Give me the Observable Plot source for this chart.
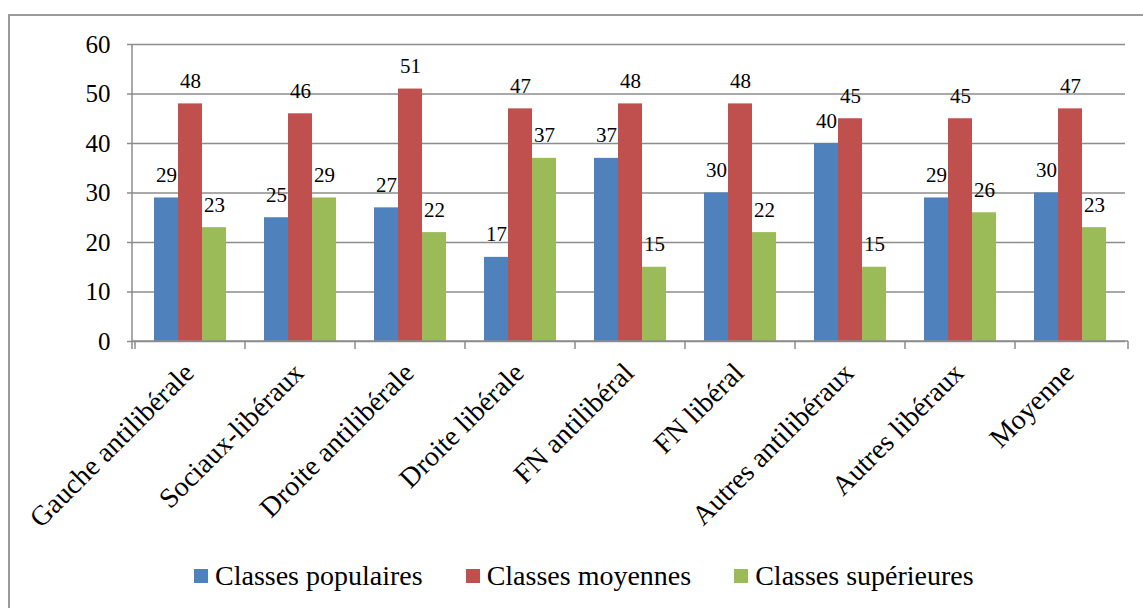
<!DOCTYPE html>
<html>
<head>
<meta charset="utf-8">
<script src="https://cdn.jsdelivr.net/npm/d3@7"></script>
<script src="https://cdn.jsdelivr.net/npm/@observablehq/plot@0.6"></script>
<style>
  html, body { margin: 0; padding: 0; background: #fff; }
  body { width: 1143px; height: 608px; position: relative; overflow: hidden; font-family: "Liberation Serif", serif; }
  #frame { position: absolute; left: 8px; top: 14px; width: 1200px; height: 640px; border-left: 2px solid #9a9a9a; border-top: 2px solid #9a9a9a; box-sizing: border-box; }
  #chart { position: absolute; left: 0; top: 0; }
  #legend { position: absolute; left: 194px; top: 562px; display: flex; gap: 43px; font-family: "Liberation Serif", serif; font-size: 28px; line-height: 28px; color: #000; }
  .item { display: flex; align-items: center; white-space: nowrap; }
  .sw { width: 14px; height: 14px; margin-right: 7px; display: inline-block; }
</style>
</head>
<body>
<div id="frame"></div>
<div id="chart"></div>
<div id="legend"></div>
<script>
const categories = ["Gauche antilibérale", "Sociaux-libéraux", "Droite antilibérale", "Droite libérale", "FN antilibéral", "FN libéral", "Autres antilibéraux", "Autres libéraux", "Moyenne"];
const seriesNames = ["Classes populaires", "Classes moyennes", "Classes supérieures"];
const populaires = [29, 25, 27, 17, 37, 30, 40, 29, 30];
const moyennes = [48, 46, 51, 47, 48, 48, 45, 45, 47];
const superieures = [23, 29, 22, 37, 15, 22, 15, 26, 23];
const colors = ["#4F81BD", "#C0504D", "#9BBB59"];
const yTicks = [0, 10, 20, 30, 40, 50, 60];

const seriesValues = [populaires, moyennes, superieures];
const data = [];
categories.forEach((c, i) => {
  seriesNames.forEach((s, j) => data.push({cat: c, series: s, value: seriesValues[j][i]}));
});

const gridColor = "#8c8c8c";
const plot = Plot.plot({
  width: 1143,
  height: 545,
  marginLeft: 132,
  marginRight: 15,
  marginTop: 44,
  marginBottom: 204,
  style: {fontFamily: "'Liberation Serif', serif", background: "transparent", overflow: "visible"},
  fx: {domain: categories, padding: 0, axis: null},
  x: {domain: seriesNames, paddingInner: 0, paddingOuter: 0.77, axis: null},
  y: {domain: [0, 60]},
  color: {domain: seriesNames, range: colors},
  marks: [
    Plot.gridY(yTicks, {stroke: gridColor, strokeOpacity: 1, strokeWidth: 1.5}),
    Plot.axisY(yTicks, {tickSize: 8, tickPadding: 17, stroke: gridColor, strokeWidth: 1.5, fontSize: 25, fill: "#000", label: null}),
    Plot.barY(data, {fx: "cat", x: "series", y: "value", fill: "series"}),
    Plot.text(data, {fx: "cat", x: "series", y: "value", text: d => String(d.value), lineAnchor: "bottom", dy: -16, fontSize: 21, fill: "#000"}),
    Plot.text(categories, {fx: d => d, text: d => d, frameAnchor: "bottom", rotate: -45, textAnchor: "end", lineAnchor: "bottom", dx: 5, dy: 33, fontSize: 28, fill: "#000"})
  ]
});
document.getElementById("chart").appendChild(plot);

// axis lines and category boundary ticks from the plot's own scales
const fx = plot.scale("fx");
const y = plot.scale("y");
const svg = d3.select(plot);
const y0 = y.apply(0), yTop = y.apply(60);
const left = fx.range[0], right = fx.range[1];
const g = svg.append("g").attr("stroke", gridColor).attr("stroke-width", 1.5);
g.append("line").attr("x1", left).attr("x2", left).attr("y1", yTop).attr("y2", y0 + 8);
g.append("line").attr("x1", left).attr("x2", right).attr("y1", y0).attr("y2", y0);
const bounds = categories.map(c => fx.apply(c)).concat([right]);
bounds.forEach(b => g.append("line").attr("x1", b).attr("x2", b).attr("y1", y0).attr("y2", y0 + 8));

// legend
const legend = d3.select("#legend");
seriesNames.forEach((s, i) => {
  const it = legend.append("div").attr("class", "item");
  it.append("span").attr("class", "sw").style("background", colors[i]);
  it.append("span").text(s);
});
</script>
</body>
</html>
